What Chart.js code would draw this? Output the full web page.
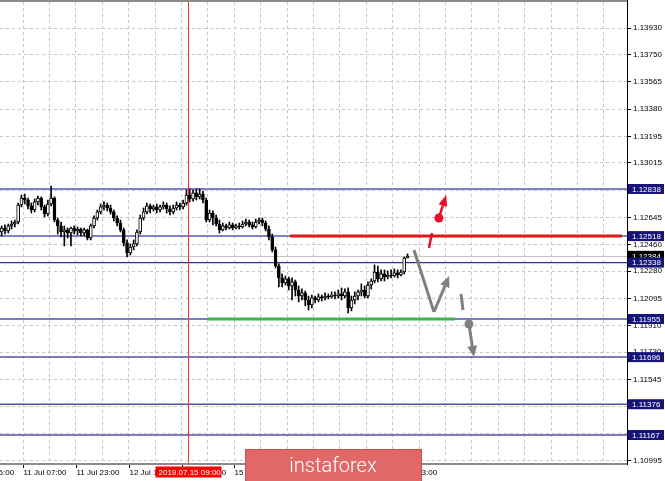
<!DOCTYPE html>
<html><head><meta charset="utf-8">
<script src="https://cdn.jsdelivr.net/npm/chart.js@4"></script>
<style>html,body{margin:0;padding:0;background:#fff;overflow:hidden}#wrap{width:665px;height:481px;position:relative}</style>
</head><body><div id="wrap"><canvas id="c" width="665" height="481"></canvas></div>
<script>
// ---- hourly candles (EURUSD H1) ----
const openP = [1.12546,1.12573,1.12553,1.12587,1.12600,1.12614,1.12729,1.12777,1.12763,1.12723,
1.12695,1.12750,1.12777,1.12716,1.12668,1.12736,1.12777,1.12627,1.12587,1.12546,
1.12560,1.12539,1.12573,1.12553,1.12566,1.12539,1.12560,1.12505,1.12587,1.12641,
1.12682,1.12716,1.12729,1.12709,1.12682,1.12641,1.12607,1.12560,1.12471,1.12403,
1.12444,1.12465,1.12546,1.12641,1.12682,1.12723,1.12702,1.12716,1.12695,1.12716,
1.12729,1.12702,1.12682,1.12709,1.12729,1.12716,1.12743,1.12797,1.12770,1.12811,
1.12784,1.12804,1.12763,1.12627,1.12675,1.12641,1.12600,1.12560,1.12587,1.12573,
1.12594,1.12573,1.12587,1.12580,1.12600,1.12614,1.12594,1.12580,1.12614,1.12627,
1.12607,1.12566,1.12512,1.12424,1.12315,1.12234,1.12200,1.12227,1.12179,1.12207,
1.12152,1.12111,1.12132,1.12084,1.12050,1.12098,1.12084,1.12105,1.12098,1.12111,
1.12105,1.12118,1.12111,1.12125,1.12111,1.12139,1.12030,1.12084,1.12111,1.12139,
1.12152,1.12111,1.12186,1.12213,1.12274,1.12227,1.12261,1.12240,1.12254,1.12247,
1.12268,1.12254,1.12274,1.12369];
const highP = [1.12587,1.12594,1.12600,1.12621,1.12627,1.12743,1.12797,1.12804,1.12777,1.12743,
1.12770,1.12790,1.12784,1.12729,1.12763,1.12858,1.12784,1.12641,1.12614,1.12587,
1.12573,1.12580,1.12587,1.12580,1.12573,1.12573,1.12566,1.12600,1.12655,1.12695,
1.12736,1.12750,1.12743,1.12729,1.12695,1.12655,1.12627,1.12573,1.12492,1.12465,
1.12492,1.12560,1.12661,1.12709,1.12743,1.12736,1.12729,1.12736,1.12729,1.12750,
1.12743,1.12723,1.12729,1.12750,1.12743,1.12763,1.12831,1.12838,1.12831,1.12838,
1.12838,1.12824,1.12777,1.12695,1.12689,1.12661,1.12627,1.12607,1.12600,1.12614,
1.12607,1.12600,1.12607,1.12621,1.12634,1.12627,1.12614,1.12634,1.12641,1.12641,
1.12621,1.12587,1.12532,1.12444,1.12329,1.12261,1.12247,1.12240,1.12234,1.12220,
1.12179,1.12159,1.12145,1.12111,1.12118,1.12111,1.12125,1.12118,1.12132,1.12125,
1.12139,1.12139,1.12152,1.12166,1.12159,1.12166,1.12111,1.12139,1.12152,1.12193,
1.12179,1.12207,1.12227,1.12322,1.12315,1.12288,1.12288,1.12281,1.12288,1.12295,
1.12288,1.12288,1.12376,1.12397];
const lowP = [1.12519,1.12532,1.12539,1.12566,1.12580,1.12600,1.12716,1.12736,1.12702,1.12675,
1.12682,1.12729,1.12695,1.12648,1.12655,1.12723,1.12614,1.12532,1.12512,1.12451,
1.12505,1.12451,1.12532,1.12526,1.12519,1.12519,1.12492,1.12492,1.12573,1.12627,
1.12668,1.12695,1.12689,1.12668,1.12621,1.12587,1.12546,1.12451,1.12376,1.12390,
1.12424,1.12451,1.12532,1.12627,1.12668,1.12675,1.12689,1.12675,1.12682,1.12702,
1.12675,1.12661,1.12668,1.12695,1.12695,1.12702,1.12729,1.12750,1.12756,1.12763,
1.12770,1.12743,1.12614,1.12614,1.12594,1.12587,1.12539,1.12553,1.12560,1.12566,
1.12560,1.12566,1.12566,1.12573,1.12587,1.12580,1.12566,1.12573,1.12600,1.12587,
1.12553,1.12492,1.12410,1.12302,1.12173,1.12173,1.12186,1.12152,1.12084,1.12111,
1.12071,1.12084,1.12044,1.12016,1.12030,1.12064,1.12071,1.12077,1.12084,1.12091,
1.12098,1.12091,1.12098,1.12084,1.12098,1.11996,1.12010,1.12057,1.12084,1.12111,
1.12098,1.12098,1.12159,1.12200,1.12207,1.12213,1.12213,1.12227,1.12234,1.12240,
1.12234,1.12247,1.12261,1.12369];
const closeP = [1.12573,1.12553,1.12587,1.12600,1.12614,1.12729,1.12777,1.12763,1.12723,1.12695,
1.12750,1.12777,1.12716,1.12668,1.12736,1.12777,1.12627,1.12587,1.12546,1.12560,
1.12539,1.12573,1.12553,1.12566,1.12539,1.12560,1.12505,1.12587,1.12641,1.12682,
1.12716,1.12729,1.12709,1.12682,1.12641,1.12607,1.12560,1.12471,1.12403,1.12444,
1.12465,1.12546,1.12641,1.12682,1.12723,1.12702,1.12716,1.12695,1.12716,1.12729,
1.12702,1.12682,1.12709,1.12729,1.12716,1.12743,1.12797,1.12770,1.12811,1.12784,
1.12804,1.12763,1.12627,1.12675,1.12641,1.12600,1.12560,1.12587,1.12573,1.12594,
1.12573,1.12587,1.12580,1.12600,1.12614,1.12594,1.12580,1.12614,1.12627,1.12607,
1.12566,1.12512,1.12424,1.12315,1.12234,1.12200,1.12227,1.12179,1.12207,1.12152,
1.12111,1.12132,1.12084,1.12050,1.12098,1.12084,1.12105,1.12098,1.12111,1.12105,
1.12118,1.12111,1.12125,1.12111,1.12139,1.12030,1.12084,1.12111,1.12139,1.12152,
1.12111,1.12186,1.12213,1.12274,1.12227,1.12261,1.12240,1.12254,1.12247,1.12268,
1.12254,1.12274,1.12369,1.12383];

const totalSlots = 190;                       // bar slots visible on the chart
const xTickIdx  = [-9, 7, 23, 39, 55, 71, 87, 103, 119];
const xTickText = ['10 Jul 15:00','11 Jul 07:00','11 Jul 23:00','12 Jul 15:00','15 Jul 07:00',
                   '15 Jul 23:00','16 Jul 15:00','17 Jul 07:00','17 Jul 23:00'];
const yTickValues = [1.13930,1.13750,1.13565,1.13380,1.13195,1.13015,1.12830,1.12645,1.12460,
                     1.12280,1.12095,1.11910,1.11730,1.11545,1.11360,1.11180,1.10995];
const levelValues = [1.12838,1.12518,1.12338,1.11955,1.11696,1.11376,1.11167];
const levelColors = ['#8080c4','#8080c4','#303098','#5050a8','#5050a8','#5050a8','#5050a8'];
const levelWidths = [2,2,1.2,1.5,1.5,1.5,1.5];
const bidPrice = 1.12384;
const markerIdx = 56.5;
const markerText = '2019.07.15 09:00';
const resistance = {from: 87.4, to: 188, value: 1.12518};
const support    = {from: 62.5, to: 137.4, value: 1.11955};
const riseDash = [[129.5, 1.12437], [130.4, 1.12539]];
const riseDot  = [132.5, 1.12641];
const riseTip  = [134.7, 1.12797];
const grayPath = [[124.95, 1.12424], [131.0, 1.12003], [135.6, 1.12247]];
const fallDash = [[139.2, 1.12125], [139.8, 1.12016]];
const fallDot  = [141.6, 1.11921];
const fallTip  = [143.1, 1.11697];

const slots = [];
for (let i = 0; i < totalSlots; i++) slots.push(String(i));

const FONT = '"Liberation Sans", Arial, sans-serif';

function arrowLine(ctx, x1, y1, x2, y2, color, lw, len, w) {
  const ang = Math.atan2(y2 - y1, x2 - x1);
  const bx = x2 - Math.cos(ang) * len * 0.8, by = y2 - Math.sin(ang) * len * 0.8;
  ctx.strokeStyle = color; ctx.lineWidth = lw; ctx.lineCap = 'butt';
  ctx.beginPath(); ctx.moveTo(x1, y1); ctx.lineTo(bx, by); ctx.stroke();
  ctx.save(); ctx.translate(x2, y2); ctx.rotate(ang);
  ctx.beginPath(); ctx.moveTo(0, 0); ctx.lineTo(-len, w / 2); ctx.lineTo(-len, -w / 2); ctx.closePath();
  ctx.fillStyle = color; ctx.fill(); ctx.restore();
}

const overlay = {
  id: 'overlay',
  beforeDatasetsDraw(chart) {
    const {ctx, chartArea: a, scales: {x, y}} = chart;
    ctx.save();
    ctx.strokeStyle = '#c4c4c4'; ctx.lineWidth = 1;
    let yy = Math.round(y.getPixelForValue(bidPrice)) + 0.5;
    ctx.beginPath(); ctx.moveTo(a.left, yy); ctx.lineTo(a.right, yy); ctx.stroke();
    levelValues.forEach((v, i) => {
      const py = y.getPixelForValue(v);
      ctx.strokeStyle = levelColors[i]; ctx.lineWidth = levelWidths[i];
      ctx.beginPath(); ctx.moveTo(a.left, py); ctx.lineTo(a.right, py); ctx.stroke();
    });
    const mx = Math.round(x.getPixelForValue(markerIdx)) + 0.5;
    ctx.strokeStyle = '#ff3030'; ctx.lineWidth = 1;
    ctx.beginPath(); ctx.moveTo(mx, a.top); ctx.lineTo(mx, a.bottom); ctx.stroke();
    ctx.restore();
  },
  afterDatasetsDraw(chart) {
    const {ctx, scales: {x, y}} = chart;
    const P = p => [x.getPixelForValue(p[0]), y.getPixelForValue(p[1])];
    ctx.save();
    ctx.lineWidth = 3;
    ctx.strokeStyle = '#e01818';
    let py = y.getPixelForValue(resistance.value);
    ctx.beginPath(); ctx.moveTo(x.getPixelForValue(resistance.from), py); ctx.lineTo(x.getPixelForValue(resistance.to), py); ctx.stroke();
    ctx.strokeStyle = '#3cb64a';
    py = y.getPixelForValue(support.value);
    ctx.beginPath(); ctx.moveTo(x.getPixelForValue(support.from), py); ctx.lineTo(x.getPixelForValue(support.to), py); ctx.stroke();
    const red = '#e8102a';
    let a1 = P(riseDash[0]), a2 = P(riseDash[1]);
    ctx.strokeStyle = red; ctx.lineWidth = 2.5;
    ctx.beginPath(); ctx.moveTo(a1[0], a1[1]); ctx.lineTo(a2[0], a2[1]); ctx.stroke();
    let d = P(riseDot), t = P(riseTip);
    arrowLine(ctx, d[0], d[1], t[0], t[1], red, 2.5, 11, 9);
    ctx.fillStyle = red; ctx.beginPath(); ctx.arc(d[0], d[1], 4.5, 0, Math.PI * 2); ctx.fill();
    const gray = '#808080';
    const g = grayPath.map(P);
    ctx.strokeStyle = gray; ctx.lineWidth = 3; ctx.lineJoin = 'miter';
    ctx.beginPath(); ctx.moveTo(g[0][0], g[0][1]); ctx.lineTo(g[1][0], g[1][1]); ctx.stroke();
    arrowLine(ctx, g[1][0], g[1][1], g[2][0], g[2][1], gray, 3, 11, 10);
    a1 = P(fallDash[0]); a2 = P(fallDash[1]);
    ctx.strokeStyle = gray; ctx.lineWidth = 3;
    ctx.beginPath(); ctx.moveTo(a1[0], a1[1]); ctx.lineTo(a2[0], a2[1]); ctx.stroke();
    d = P(fallDot); t = P(fallTip);
    arrowLine(ctx, d[0], d[1], t[0], t[1], gray, 3, 11, 10);
    ctx.fillStyle = gray; ctx.beginPath(); ctx.arc(d[0], d[1], 4.5, 0, Math.PI * 2); ctx.fill();
    ctx.restore();
  },
  afterDraw(chart) {
    const {ctx, chartArea: a, scales: {x, y}} = chart;
    ctx.save();
    ctx.strokeStyle = '#8c8c8c'; ctx.lineWidth = 2;
    ctx.beginPath(); ctx.moveTo(0, a.top - 1); ctx.lineTo(a.right, a.top - 1); ctx.stroke();
    ctx.beginPath(); ctx.moveTo(0, a.bottom); ctx.lineTo(a.right, a.bottom); ctx.stroke();
    ctx.strokeStyle = '#000'; ctx.lineWidth = 1;
    ctx.beginPath(); ctx.moveTo(a.right + 0.5, a.top - 2); ctx.lineTo(a.right + 0.5, a.bottom + 1); ctx.stroke();
    const half = (x.getPixelForValue(1) - x.getPixelForValue(0)) / 2;
    ctx.font = '8px ' + FONT; ctx.fillStyle = '#000'; ctx.textBaseline = 'middle'; ctx.textAlign = 'left';
    xTickIdx.forEach((k, i) => {
      const px = Math.round(x.getPixelForValue(k) - half) + 0.5;
      ctx.strokeStyle = '#000'; ctx.lineWidth = 1;
      ctx.beginPath(); ctx.moveTo(px, a.bottom + 1); ctx.lineTo(px, a.bottom + 4); ctx.stroke();
      ctx.fillText(xTickText[i], px, a.bottom + 9);
    });
    const mx = Math.round(x.getPixelForValue(markerIdx)) + 0.5;
    ctx.fillStyle = '#ff0000';
    ctx.fillRect(mx - 33, a.bottom + 2.5, 66, 11);
    ctx.fillStyle = '#fff';
    ctx.fillText(markerText, mx - 30, a.bottom + 8.5);
    const boxX = a.right + 1, boxW = 36, boxH = 10;
    const by = y.getPixelForValue(bidPrice);
    ctx.fillStyle = '#000'; ctx.fillRect(boxX, by - boxH / 2, boxW, boxH);
    ctx.fillStyle = '#fff'; ctx.fillText(bidPrice.toFixed(5), boxX + 4, by + 0.5);
    levelValues.forEach(v => {
      const py = y.getPixelForValue(v);
      ctx.fillStyle = '#14147a'; ctx.fillRect(boxX, py - boxH / 2, boxW, boxH);
      ctx.fillStyle = '#fff'; ctx.fillText(v.toFixed(5), boxX + 4, py + 0.5);
    });
    ctx.fillStyle = '#e06868';
    ctx.fillRect(245, 449, 177, 40);
    ctx.strokeStyle = '#c85050'; ctx.lineWidth = 1;
    ctx.strokeRect(245.5, 449.5, 176, 40);
    ctx.fillStyle = '#fff'; ctx.textAlign = 'center'; ctx.textBaseline = 'alphabetic';
    ctx.font = '300 20px Roboto, "Open Sans", sans-serif';
    ctx.fillText('instaforex', 333, 472);
    ctx.restore();
  }
};

new Chart(document.getElementById('c'), {
  type: 'bar',
  data: {
    labels: slots,
    datasets: [
      {
        label: 'wick',
        data: lowP.map((l, i) => [l, highP[i]]),
        backgroundColor: '#000', barThickness: 1, grouped: false, order: 2
      },
      {
        label: 'body',
        data: openP.map((o, i) => [o, closeP[i]]),
        backgroundColor: openP.map((o, i) => closeP[i] > o ? '#ffffff' : '#000000'),
        borderColor: '#000', borderWidth: 1, borderSkipped: false,
        barThickness: 3, grouped: false, order: 1
      }
    ]
  },
  options: {
    responsive: false, animation: false, devicePixelRatio: 1,
    layout: {padding: {top: 2, left: 0, right: 0, bottom: 0}},
    plugins: {legend: {display: false}, tooltip: {enabled: false}},
    scales: {
      x: {
        type: 'category', offset: true,
        grid: {offset: true, drawTicks: false, lineWidth: 1,
               color: c => (c.index % 8 === 7 ? '#c6c6c6' : 'rgba(0,0,0,0)')},
        border: {display: false, dash: [3, 3]},
        ticks: {display: false, autoSkip: false},
        afterFit: s => { s.height = 17; s.paddingLeft = 0; s.paddingRight = 0; }
      },
      y: {
        type: 'linear', position: 'right', min: 1.10970, max: 1.14108, bounds: 'data',
        afterBuildTicks: s => { s.ticks = yTickValues.map(v => ({value: v})); },
        ticks: {callback: v => Number(v).toFixed(5), font: {family: FONT, size: 8}, color: '#000', padding: 2},
        grid: {color: '#c6c6c6', tickColor: '#000', tickLength: 4, tickBorderDash: []},
        border: {display: false, dash: [3, 3]},
        afterFit: s => { s.width = 38; s.paddingTop = 0; s.paddingBottom = 0; }
      }
    }
  },
  plugins: [overlay]
});
</script>
</body></html>
